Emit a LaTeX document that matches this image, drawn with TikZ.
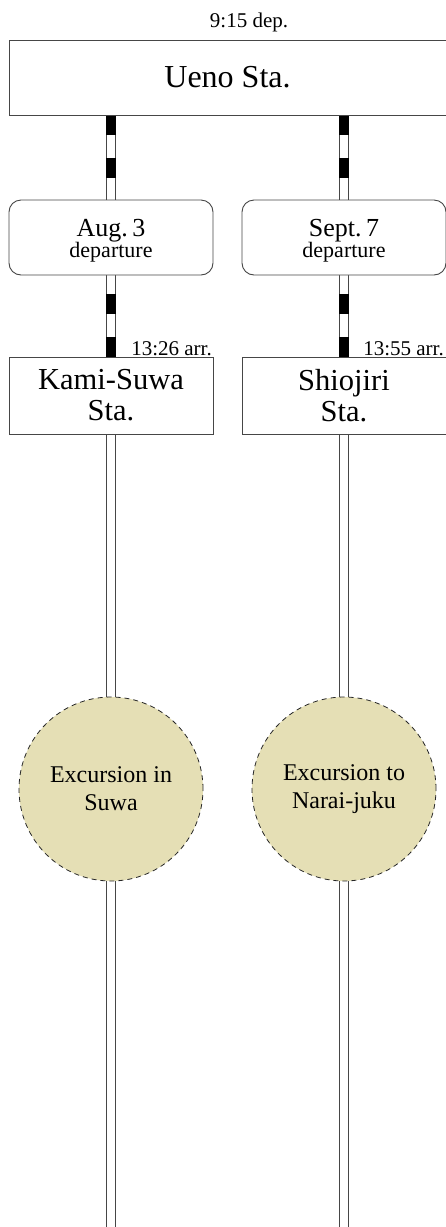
\documentclass[tikz,border=0pt]{standalone}
\usepackage{fontspec}
\setmainfont{Liberation Serif}
\usetikzlibrary{backgrounds}
\definecolor{beige}{RGB}{229,223,181}
\definecolor{edge}{RGB}{70,70,70}
\tikzset{
  box/.style={draw=edge, line width=0.9pt, fill=white, minimum width=204pt, inner sep=0pt, align=center},
  stbox/.style={box, minimum height=77pt, font=\fontsize{30.5}{31}\selectfont},
  datebox/.style={box, rounded corners=12pt, minimum height=75pt},
  excursion/.style={circle, draw=black!85, dashed, dash pattern=on 5pt off 4pt, line width=0.8pt, fill=beige, minimum size=184pt, inner sep=0pt, align=center, font=\fontsize{24}{28}\selectfont},
  railbase/.style={draw=edge, line width=0.9pt, double=white, double distance=8.4pt},
  raildash/.style={draw=black, line width=10pt, dash pattern=on 20pt off 23pt},
  timelbl/.style={font=\fontsize{21}{21}\selectfont, inner sep=1pt}
}
\newcommand{\datetext}[1]{\raisebox{-3pt}[\height][\depth]{\begin{tabular}{@{}c@{}}{\fontsize{26}{18}\selectfont #1}\\[0pt]{\fontsize{22}{18}\selectfont departure}\end{tabular}}}
\begin{document}
\begin{tikzpicture}[x=1pt,y=-1pt]
\useasboundingbox (0,0) rectangle (445,1227);
\coordinate (bottom) at (0,1235);
\node[box, minimum width=437pt, minimum height=75pt, font=\fontsize{32}{32}\selectfont] (ueno) at (227.5,77.5) {Ueno Sta.};
\node[datebox] (d1) at (111,237.5) {\datetext{Aug.\,3}};
\node[datebox] (d2) at (344,237.5) {\datetext{Sept.\,7}};
\node[stbox] (s1) at (111,395.5) {\lineskiplimit=-20pt Kami-Suwa\\Sta.};
\node[stbox] (s2) at (344,395.5) {\lineskiplimit=-20pt Shiojiri\\Sta.};
\node[excursion] (c1) at (111,789) {Excursion in\\Suwa};
\node[excursion] (c2) at (344,789) {Excursion to\\Narai-juku};
\node[timelbl, anchor=base] (dep) at (249,27) {9:15 dep.};
\node[timelbl, anchor=base east] (a1) at (213,355) {13:26 arr.};
\node[timelbl, anchor=base east] (a2) at (445,355) {13:55 arr.};
\begin{scope}[on background layer]
\foreach \d/\s/\c in {d1/s1/c1, d2/s2/c2}{
  \draw[railbase] (ueno.south -| \d) -- (\d.north);
  \draw[raildash] (ueno.south -| \d) -- (\d.north);
  \draw[railbase] (\s.north) -- (\d.south);
  \draw[raildash] (\s.north) -- (\d.south);
  \draw[railbase] (\s.south) -- (\c.north);
  \draw[railbase] (\c.south) -- (\c.south |- bottom);
}
\end{scope}
\end{tikzpicture}
\end{document}
